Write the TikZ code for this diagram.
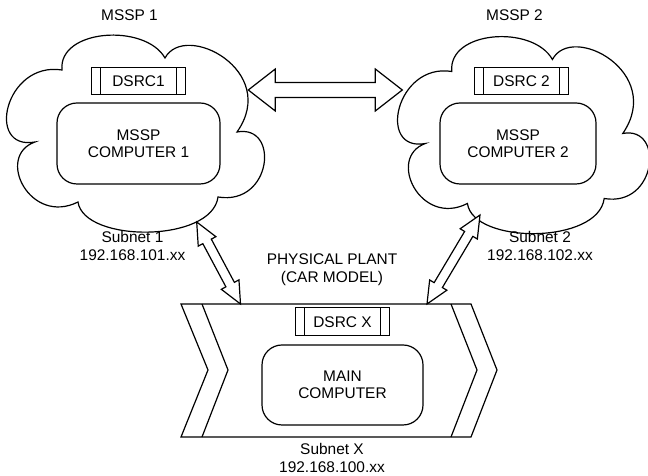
\documentclass[tikz,border=0pt]{standalone}
\usepackage{fontspec}
\setmainfont{Liberation Sans}
\usetikzlibrary{calc,positioning}

\newcommand{\blockarrow}[5]{%
  \coordinate (ha) at ($(#1)!#3!(#2)$);
  \coordinate (hb) at ($(#2)!#3!(#1)$);
  \draw[fill=white] (#1) -- ($(ha)!#4!90:(#2)$) -- ($(ha)!#5!90:(#2)$)
    -- ($(hb)!#5!-90:(#1)$) -- ($(hb)!#4!-90:(#1)$) -- (#2)
    -- ($(hb)!#4!90:(#1)$) -- ($(hb)!#5!90:(#1)$)
    -- ($(ha)!#5!-90:(#2)$) -- ($(ha)!#4!-90:(#2)$) -- cycle;}

\begin{document}
\begin{tikzpicture}
  [x=1bp,y=1bp,line width=1.2bp,font=\fontsize{15.5}{17.5}\selectfont,
comp/.style={rectangle,rounded corners=20bp,draw,align=center,minimum height=81bp},
dsrc/.style={rectangle,draw,minimum width=94bp,minimum height=27bp,inner sep=2bp,
  path picture={\draw ([xshift=9bp]path picture bounding box.north west) -- ([xshift=9bp]path picture bounding box.south west)
    ([xshift=-9bp]path picture bounding box.north east) -- ([xshift=-9bp]path picture bounding box.south east);}},
cloudpic/.pic={\draw (62,406) .. controls (58,447) and (145,453) .. (165,418)
  .. controls (185,455) and (280,405) .. (237,344)
  .. controls (280,352) and (272,270) .. (218,279)
  .. controls (212,233) and (84,233) .. (78,274)
  .. controls (30,250) and (-5,320) .. (35,334)
  .. controls (-15,325) and (5,415) .. cycle;}]

  \useasboundingbox (0,0) rectangle (648,476);

  \pic at (0,0) {cloudpic};
  \pic[xscale=0.977] at (391.2,-1.5) {cloudpic};

  \node[comp, minimum width=163bp] (comp1) at (138.5,332.5) {MSSP\\COMPUTER 1};
  \node[dsrc] (dsrc1) [above=7bp of comp1] {DSRC1};
  \node[comp, minimum width=156bp] (comp2) at (518,332.5) {MSSP\\COMPUTER 2};
  \node[dsrc, xshift=3.5bp] (dsrc2) [above=7bp of comp2] {DSRC 2};

  \node (mssp1) at (129.5,460.5) {MSSP 1};
  \node (mssp2) at (514.5,460.5) {MSSP 2};
  \node[align=center] (sub1) at (132.5,230) {Subnet 1\\192.168.101.xx};
  \node[align=center] (sub2) at (540,230) {Subnet 2\\192.168.102.xx};

  \draw (181,172) -- (471,172) -- (497,106) -- (471,39) -- (181,39) -- (208,106) -- cycle;
  \draw (202,172) -- (228,106) -- (202,39);
  \draw (451,172) -- (477,106) -- (451,39);

  \node[comp, minimum width=161bp, minimum height=80bp] (mainc) at (342.5,91) {MAIN\\COMPUTER};
  \node[dsrc, minimum height=28bp] (dsrcx) [above=8bp of mainc] {DSRC X};
  \node[align=center] (plant) at (332,206.5) {PHYSICAL PLANT\\(CAR MODEL)};
  \node[align=center] (subx) at (332,18) {Subnet X\\192.168.100.xx};

  \coordinate (c1r) at (248.3,386);
  \coordinate (c2l) at (402.3,386);
  \coordinate (c1b) at (196.7,254);
  \coordinate (p1) at (240.5,172);
  \coordinate (c2b) at (480,261);
  \coordinate (p2) at (427,172);

  \blockarrow{c1r}{c2l}{27bp}{21bp}{7.5bp}
  \blockarrow{c1b}{p1}{22bp}{10bp}{4.8bp}
  \blockarrow{c2b}{p2}{22bp}{10bp}{4.8bp}

\end{tikzpicture}
\end{document}
